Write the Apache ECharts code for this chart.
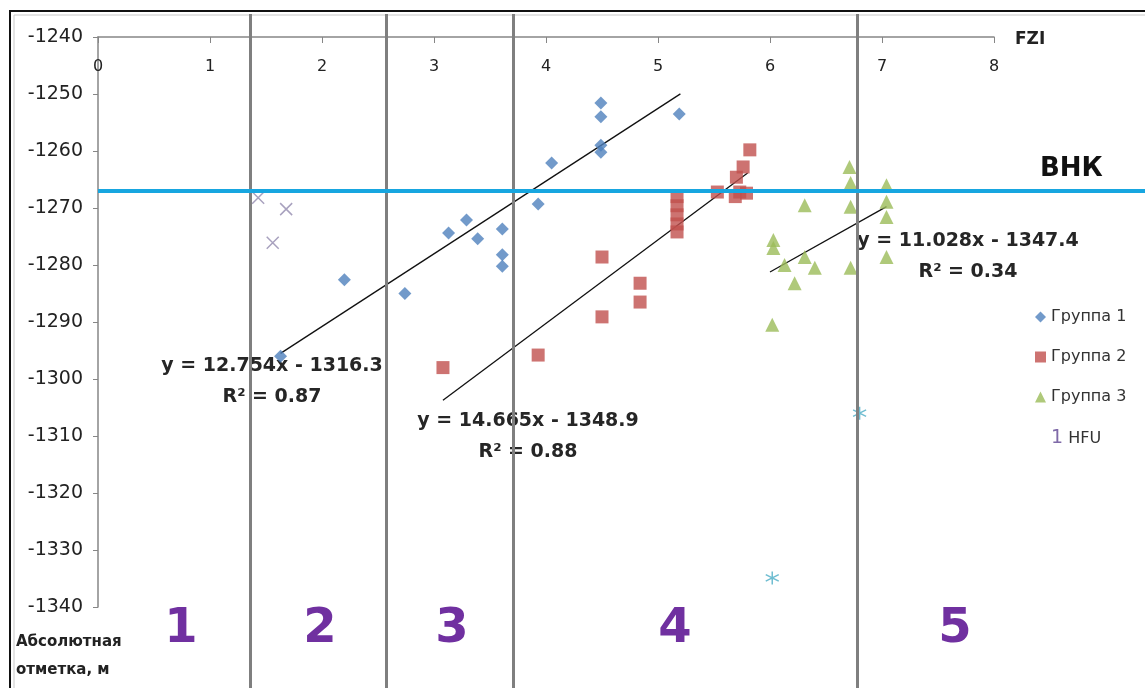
<!DOCTYPE html>
<html>
<head>
<meta charset="utf-8">
<script src="https://cdn.jsdelivr.net/npm/echarts@6/dist/echarts.min.js"></script>
<style>
  html, body { margin: 0; padding: 0; background: #fff; }
  #chart { width: 1145px; height: 688px; }
</style>
</head>
<body>
<div id="chart"></div>
<script>
// точки по группам [FZI, абс. отметка]
var group1 = [[1.63, -1296], [2.2, -1282.6], [2.74, -1285], [3.13, -1274.4], [3.29, -1272.1],
  [3.39, -1275.4], [3.61, -1273.7], [3.61, -1278.2], [3.61, -1280.2], [3.93, -1269.3],
  [4.05, -1262.1], [4.49, -1251.6], [4.49, -1254], [4.49, -1259], [4.49, -1260.2], [5.19, -1253.5]];
var group2 = [[3.08, -1298], [3.93, -1295.8], [4.5, -1278.6], [4.5, -1289.1], [4.84, -1283.2],
  [4.84, -1286.5], [5.17, -1268], [5.17, -1269.6], [5.17, -1271.2], [5.17, -1272.8], [5.17, -1274.2],
  [5.53, -1267.2], [5.69, -1268], [5.73, -1267.2], [5.79, -1267.4], [5.7, -1264.6], [5.76, -1262.8], [5.82, -1259.8]];
var group3 = [[6.71, -1262.8], [6.72, -1265.6], [6.72, -1269.8], [7.04, -1266], [7.04, -1268.9],
  [7.04, -1271.6], [7.04, -1278.6], [6.31, -1269.5], [6.03, -1275.6], [6.03, -1277], [6.13, -1280],
  [6.31, -1278.6], [6.4, -1280.5], [6.22, -1283.2], [6.72, -1280.5], [6.02, -1290.5]];
var hfu = [[1.43, -1268.2], [1.68, -1270.2], [1.56, -1276.1]];
var outliers = [[6.02, -1334.9], [6.8, -1306]];

// линии тренда y = a*x + b
var trendSlopes = [12.754, 14.665, 11.028];
var trendIntercepts = [-1316.3, -1348.9, -1347.4];
var trendFrom = [1.63, 3.08, 6.0];
var trendTo = [5.2, 5.8, 7.04];
var trendText = ['y = 12.754x - 1316.3\nR² = 0.87', 'y = 14.665x - 1348.9\nR² = 0.88', 'y = 11.028x - 1347.4\nR² = 0.34'];

var zoneBorders = [1.357, 2.571, 3.705, 6.777];
var zoneNames = ['1', '2', '3', '4', '5'];
var vnk = -1267;

var font = 'DejaVu Sans';
var chart = echarts.init(document.getElementById('chart'));

var trendSeries = trendSlopes.map(function (a, i) {
  var b = trendIntercepts[i];
  return {
    type: 'line', name: 'trend' + i, symbol: 'none', silent: true,
    lineStyle: { color: '#111', width: 1.3 },
    data: [[trendFrom[i], a * trendFrom[i] + b], [trendTo[i], a * trendTo[i] + b]],
    z: 3
  };
});

var crossPath = 'path://M0,0L10,10M10,0L0,10';
var starPath = 'path://M5,0L5,10M0,2.5L10,7.5M10,2.5L0,7.5';

var option = {
  backgroundColor: '#fff',
  animation: false,
  grid: [
    { left: 98, right: 151, top: 37, bottom: 81 },
    { left: 98, right: 151, top: 14, bottom: 0 },
    { left: 98, right: 0, top: 37, bottom: 81 }
  ],
  xAxis: [
    {
      type: 'value', gridIndex: 0, position: 'top', min: 0, max: 8, interval: 1,
      axisLine: { show: true, lineStyle: { color: '#868686', width: 1.5 } },
      axisTick: { show: true, inside: true, length: 6, lineStyle: { color: '#868686' } },
      axisLabel: { inside: true, margin: 22, color: '#222', fontFamily: font, fontSize: 16 },
      splitLine: { show: false }
    },
    { type: 'value', gridIndex: 1, min: 0, max: 8, show: false },
    { type: 'value', gridIndex: 2, min: 0, max: 1, show: false }
  ],
  yAxis: [
    {
      type: 'value', gridIndex: 0, min: -1340, max: -1240, interval: 10,
      axisLine: { show: true, lineStyle: { color: '#868686', width: 1.5 } },
      axisTick: { show: true, length: 5, lineStyle: { color: '#868686' } },
      axisLabel: { margin: 15, color: '#222', fontFamily: font, fontSize: 19,
        formatter: function (v) { return String(v); } },
      splitLine: { show: false }
    },
    { type: 'value', gridIndex: 1, min: 0, max: 1, show: false },
    { type: 'value', gridIndex: 2, min: -1340, max: -1240, show: false }
  ],
  legend: {
    orient: 'vertical', left: 1030, top: 304, itemGap: 24,
    itemWidth: 11, itemHeight: 11,
    textStyle: { fontFamily: font, fontSize: 16, color: '#333',
      rich: { n: { color: '#7f6aa8', fontSize: 19, fontFamily: font } } },
    formatter: function (name) { return name === 'HFU' ? '{n|1} HFU' : name; },
    data: ['Группа 1', 'Группа 2', 'Группа 3', { name: 'HFU', icon: 'none' }]
  },
  graphic: [
    { type: 'rect', shape: { x: 10, y: 11, width: 1300, height: 800 }, style: { fill: 'none', stroke: '#111', lineWidth: 2 }, silent: true },
    { type: 'rect', shape: { x: 14, y: 15, width: 1300, height: 800 }, style: { fill: 'none', stroke: '#c8c8c8', lineWidth: 1 }, silent: true },
    { type: 'text', left: 1015, top: 31, style: { text: 'FZI', font: 'bold 17px "' + font + '"', fill: '#222' } },
    { type: 'text', left: 1040, top: 156, style: { text: 'ВНК', font: 'bold 26px "' + font + '"', fill: '#111' } },
    { type: 'text', left: 16, top: 628, style: { text: 'Абсолютная\nотметка, м', font: 'bold 15px "' + font + '"', fill: '#222', lineHeight: 28 } },
    { type: 'text', x: 272, y: 382, style: { text: trendText[0], font: 'bold 19px "' + font + '"', fill: '#262626', align: 'center', verticalAlign: 'middle', lineHeight: 31 } },
    { type: 'text', x: 528, y: 437, style: { text: trendText[1], font: 'bold 19px "' + font + '"', fill: '#262626', align: 'center', verticalAlign: 'middle', lineHeight: 31 } },
    { type: 'text', x: 968, y: 257, style: { text: trendText[2], font: 'bold 19px "' + font + '"', fill: '#262626', align: 'center', verticalAlign: 'middle', lineHeight: 31 } }
  ].concat(zoneNames.map(function (t, i) {
    var cx = [181, 320, 452, 675, 955][i];
    return { type: 'text', x: cx, y: 630, style: { text: t, font: 'bold 48px "' + font + '"', fill: '#7030a0', align: 'center', verticalAlign: 'middle' } };
  })),
  series: [
    {
      type: 'scatter', name: 'zones', xAxisIndex: 1, yAxisIndex: 1, data: [], silent: true,
      markLine: {
        symbol: 'none', silent: true, label: { show: false },
        lineStyle: { color: '#7f7f7f', width: 3, type: 'solid' },
        data: zoneBorders.map(function (x) { return { xAxis: x }; })
      }
    },
    {
      type: 'scatter', name: 'vnk', xAxisIndex: 2, yAxisIndex: 2, data: [], silent: true,
      markLine: {
        symbol: 'none', silent: true, label: { show: false },
        lineStyle: { color: '#17a6e0', width: 4, type: 'solid' },
        data: [{ yAxis: vnk }]
      }
    },
    { type: 'scatter', name: 'Группа 1', symbol: 'diamond', symbolSize: 13, itemStyle: { color: '#4f81bd' }, data: group1, z: 4 },
    { type: 'scatter', name: 'Группа 2', symbol: 'rect', symbolSize: 13, itemStyle: { color: '#c0504d' }, data: group2, z: 4 },
    { type: 'scatter', name: 'Группа 3', symbol: 'triangle', symbolSize: 14, itemStyle: { color: '#9bbb59' }, data: group3, z: 4 },
    { type: 'scatter', name: 'HFU', symbol: crossPath, symbolSize: 12, itemStyle: { color: 'none', borderColor: '#928aae', borderWidth: 1.5 }, data: hfu, z: 4 },
    { type: 'scatter', name: 'other', symbol: starPath, symbolSize: 13, itemStyle: { color: 'none', borderColor: '#4bacc6', borderWidth: 1.5 }, data: outliers, z: 4 }
  ].concat(trendSeries)
};

chart.setOption(option);
</script>
</body>
</html>
